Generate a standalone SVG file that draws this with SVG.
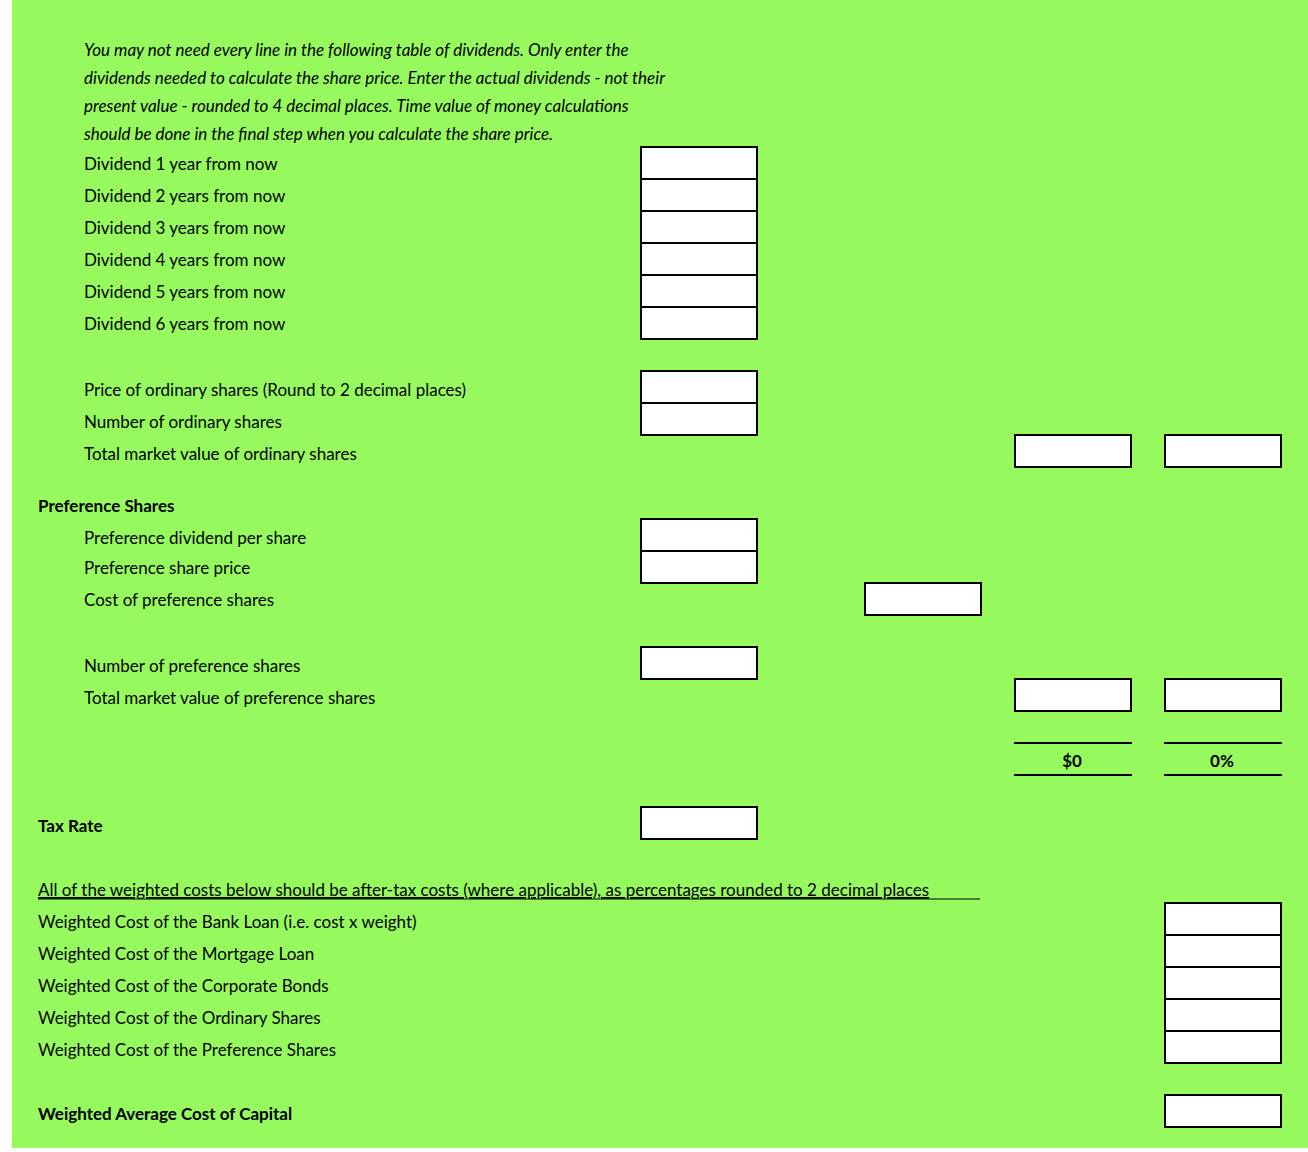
<svg xmlns="http://www.w3.org/2000/svg" width="1308" height="1152" viewBox="0 0 1308 1152">
<style>
text{font-family:Lato,"Liberation Sans",sans-serif;font-size:17px;fill:#000}
.i{font-style:italic}
.b{font-weight:bold}
.c{text-anchor:middle}
rect.box{fill:#fff;stroke:#000;stroke-width:2}
line{stroke:#000;stroke-width:2}
</style>
<rect x="0" y="0" width="1308" height="1152" fill="#fff"/>
<rect x="12" y="0" width="1296" height="1148" fill="#96FA5E"/>
<g id="intro">
<text class="i" x="84" y="56">You may not need every line in the following table of dividends.  Only enter the</text>
<text class="i" x="84" y="84">dividends needed to calculate the share price.  Enter the actual dividends - not their</text>
<text class="i" x="84" y="112">present value - rounded to 4 decimal places.  Time value of money calculations</text>
<text class="i" x="84" y="140">should be done in the final step when you calculate the share price.</text>
</g>
<g id="labels">
<text x="84" y="170">Dividend 1 year from now</text>
<text x="84" y="202">Dividend 2 years from now</text>
<text x="84" y="234">Dividend 3 years from now</text>
<text x="84" y="266">Dividend 4 years from now</text>
<text x="84" y="298">Dividend 5 years from now</text>
<text x="84" y="330">Dividend 6 years from now</text>
<text x="84" y="396">Price of ordinary shares (Round to 2 decimal places)</text>
<text x="84" y="428">Number of ordinary shares</text>
<text x="84" y="460">Total market value of ordinary shares</text>
<text class="b" x="38" y="512">Preference Shares</text>
<text x="84" y="544">Preference dividend per share</text>
<text x="84" y="574">Preference share price</text>
<text x="84" y="606">Cost of preference shares</text>
<text x="84" y="672">Number of preference shares</text>
<text x="84" y="704">Total market value of preference shares</text>
<text class="b" x="38" y="832">Tax Rate</text>
<text x="38" y="896" text-decoration="underline">All of the weighted costs below should be after-tax costs (where applicable), as percentages rounded to 2 decimal places</text>
<line x1="38" y1="899" x2="980" y2="899" style="stroke-width:1"/>
<text x="38" y="928">Weighted Cost of the Bank Loan (i.e. cost x weight)</text>
<text x="38" y="960">Weighted Cost of the Mortgage Loan</text>
<text x="38" y="992">Weighted Cost of the Corporate Bonds</text>
<text x="38" y="1024">Weighted Cost of the Ordinary Shares</text>
<text x="38" y="1056">Weighted Cost of the Preference Shares</text>
<text class="b" x="38" y="1120">Weighted Average Cost of Capital</text>
</g>
<g id="boxes">
<rect class="box" x="641" y="147" width="116" height="32"/>
<rect class="box" x="641" y="179" width="116" height="32"/>
<rect class="box" x="641" y="211" width="116" height="32"/>
<rect class="box" x="641" y="243" width="116" height="32"/>
<rect class="box" x="641" y="275" width="116" height="32"/>
<rect class="box" x="641" y="307" width="116" height="32"/>
<rect class="box" x="641" y="371" width="116" height="32"/>
<rect class="box" x="641" y="403" width="116" height="32"/>
<rect class="box" x="1015" y="435" width="116" height="32"/>
<rect class="box" x="1165" y="435" width="116" height="32"/>
<rect class="box" x="641" y="519" width="116" height="32"/>
<rect class="box" x="641" y="551" width="116" height="32"/>
<rect class="box" x="865" y="583" width="116" height="32"/>
<rect class="box" x="641" y="647" width="116" height="32"/>
<rect class="box" x="1015" y="679" width="116" height="32"/>
<rect class="box" x="1165" y="679" width="116" height="32"/>
<rect class="box" x="641" y="807" width="116" height="32"/>
<rect class="box" x="1165" y="903" width="116" height="32"/>
<rect class="box" x="1165" y="935" width="116" height="32"/>
<rect class="box" x="1165" y="967" width="116" height="32"/>
<rect class="box" x="1165" y="999" width="116" height="32"/>
<rect class="box" x="1165" y="1031" width="116" height="32"/>
<rect class="box" x="1165" y="1095" width="116" height="32"/>
</g>
<g id="totals">
<line x1="1014" y1="743" x2="1132" y2="743"/>
<line x1="1014" y1="775" x2="1132" y2="775"/>
<line x1="1164" y1="743" x2="1282" y2="743"/>
<line x1="1164" y1="775" x2="1282" y2="775"/>
<text class="b c" x="1072" y="767">$0</text>
<text class="b c" x="1222" y="767">0%</text>
</g>
</svg>
